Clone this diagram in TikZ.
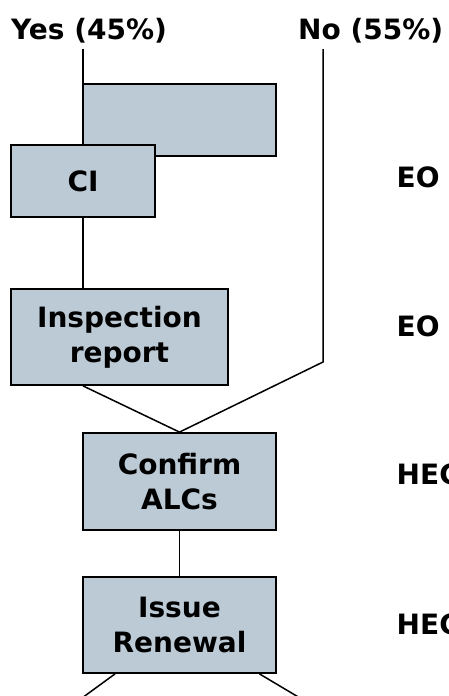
\documentclass[tikz,border=0pt]{standalone}
\usepackage{fontspec}
\setmainfont{DejaVu Sans}
\definecolor{boxfill}{RGB}{188,202,214}
\tikzset{
  procbox/.style={draw=black, line width=1.8pt, fill=boxfill, inner sep=0pt, align=center,
    font=\fontsize{28}{35}\selectfont\bfseries},
  lbl/.style={inner sep=0pt, anchor=base west, font=\fontsize{28}{35}\selectfont\bfseries},
  conn/.style={line width=1.5pt}
}
\begin{document}
\begin{tikzpicture}[x=1pt,y=-1pt]
\useasboundingbox (0,0) rectangle (448,696);
\clip (0,0) rectangle (448,696);
% headings
\node[lbl] (yes) at (11,39) {Yes (45\%)};
\node[lbl] (no) at (298,39) {No (55\%)};
\coordinate (yestop) at (83,49);
\coordinate (notop) at (323,49);
\coordinate (nocorner) at (323,362);
% boxes
\node[procbox, minimum width=193pt, minimum height=72pt] (blank) at (179.5,120) {};
\draw[conn] (yestop) -- (blank.north -| yestop);
\node[procbox, minimum width=144pt, minimum height=72pt] (ci) at (83,181) {CI};
\node[procbox, minimum width=217pt, minimum height=96pt] (insp) at (119.5,337) {Inspection\\report};
\node[procbox, minimum width=193pt, minimum height=97pt] (conf) at (179.5,481.5) {Confirm\\ALCs};
\node[procbox, minimum width=193pt, minimum height=96pt] (issue) at (179.5,625) {Issue\\Renewal};
% role labels
\node[lbl] (eo1) at (396.5,187) {EO};
\node[lbl] (eo2) at (396.5,336) {EO};
\node[lbl] (hec1) at (396.5,484) {HEC};
\node[lbl] (hec2) at (396.5,634) {HEC};
% connectors
\draw[conn] (ci.south) -- (insp.north -| ci.south);
\draw[conn] (notop) -- (nocorner) -- (conf.north);
\draw[conn] (insp.south -| ci.south) -- (conf.north);
\draw[conn] (conf.south) -- (issue.north);
\coordinate (botl) at (82,698);
\coordinate (botr) at (300,698);
\draw[conn] ([xshift=-64.5pt]issue.south) -- (botl);
\draw[conn] ([xshift=80pt]issue.south) -- (botr);
\end{tikzpicture}
\end{document}
